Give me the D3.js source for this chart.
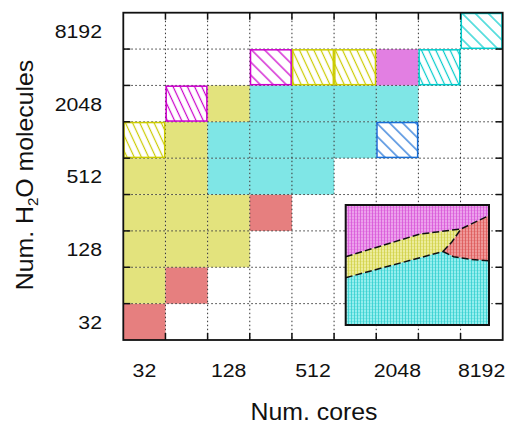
<!DOCTYPE html>
<html>
<head>
<meta charset="utf-8">
<script src="https://cdn.jsdelivr.net/npm/d3@7"></script>
<style>
  body { margin: 0; background: #fff; }
  svg { display: block; font-family: "Liberation Sans", Arial, sans-serif; }
</style>
</head>
<body>
<div id="chart"></div>
<script>
const cores = [32, 64, 128, 256, 512, 1024, 2048, 4096, 8192];
const molecules = [32, 64, 128, 256, 512, 1024, 2048, 4096, 8192];
const tickLabels = [32, 128, 512, 2048, 8192];

// one row per molecule count (bottom to top), one entry per core count
// Y/C/R/M solid, y/m/c dense hatch, mS/cS/bS sparse hatch
const cellRows = [
    ['R', '', '', '', '', '', '', '', ''],
    ['Y', 'R', '', '', '', '', '', '', ''],
    ['Y', 'Y', 'Y', '', '', '', '', '', ''],
    ['Y', 'Y', 'Y', 'R', '', '', '', '', ''],
    ['Y', 'Y', 'C', 'C', 'C', '', '', '', ''],
    ['y', 'Y', 'C', 'C', 'C', 'C', 'bS', '', ''],
    ['', 'm', 'Y', 'C', 'C', 'C', 'C', '', ''],
    ['', '', '', 'mS', 'y', 'y', 'M', 'c', ''],
    ['', '', '', '', '', '', '', '', 'cS']
];

// inset regions, in inset units (0..1, y up)
const insetMagenta = [[0, 0.569], [0.518, 0.758], [0.804, 0.8], [1, 0.9125], [1, 1], [0, 1]];
const insetYellow = [[0, 0.394], [0.679, 0.6125], [0.742, 0.694], [0.804, 0.8], [0.518, 0.758], [0, 0.569]];
const insetRed = [[0.679, 0.6125], [0.753, 0.569], [0.869, 0.547], [1, 0.536], [1, 0.9125], [0.804, 0.8], [0.742, 0.694]];
const insetCyan = [[0, 0], [1, 0], [1, 0.536], [0.869, 0.547], [0.753, 0.569], [0.679, 0.6125], [0, 0.394]];
const insetBorders = [
    [[0, 0.569], [0.518, 0.758], [0.804, 0.8], [1, 0.9125]],
    [[0, 0.394], [0.679, 0.6125]],
    [[0.679, 0.6125], [0.742, 0.694], [0.804, 0.8]],
    [[0.679, 0.6125], [0.753, 0.569], [0.869, 0.547], [1, 0.536]]
];

const W = 506, H = 425;
const plot = { left: 123.3, right: 502.7, top: 12.7, bottom: 340 };
const stretch = 1.12;

const svg = d3.select('#chart').append('svg')
    .attr('width', W)
    .attr('height', H);

const x = d3.scaleBand().domain(cores).range([plot.left, plot.right]);
const y = d3.scaleBand().domain(molecules).range([plot.bottom, plot.top]);

const solid = { Y: '#e3e37d', C: '#7fe6e6', R: '#e67f7f', M: '#e27fe2' };
const hatch = {
    y: { color: '#cccc00', sparse: false },
    m: { color: '#cc00cc', sparse: false },
    c: { color: '#00cccc', sparse: false },
    mS: { color: '#cc00cc', sparse: true },
    cS: { color: '#00cccc', sparse: true },
    bS: { color: '#1a6fd6', sparse: true }
};

const defs = svg.append('defs');

Object.entries(hatch).forEach(([key, h]) => {
    const size = h.sparse ? 9.2 : 6.5;
    const angle = h.sparse ? -45 : -25;
    const p = defs.append('pattern')
        .attr('id', 'hatch-' + key)
        .attr('patternUnits', 'userSpaceOnUse')
        .attr('width', size)
        .attr('height', size)
        .attr('patternTransform', `rotate(${angle})`);
    p.append('rect').attr('width', size).attr('height', size).attr('fill', '#fff');
    p.append('line')
        .attr('x1', size / 2).attr('x2', size / 2)
        .attr('y1', 0).attr('y2', size)
        .attr('stroke', h.color)
        .attr('stroke-width', 1.2);
});

const mesh = {
    m: ['#eca0ec', '#d650d6'],
    y: ['#ecec9a', '#cfcf40'],
    r: ['#ef9898', '#da5252'],
    c: ['#94eeee', '#2ccccc']
};
Object.entries(mesh).forEach(([key, [light, dark]]) => {
    const p = defs.append('pattern')
        .attr('id', 'mesh-' + key)
        .attr('patternUnits', 'userSpaceOnUse')
        .attr('width', 3)
        .attr('height', 3);
    p.append('rect').attr('width', 3).attr('height', 3).attr('fill', light);
    p.append('rect').attr('width', 1).attr('height', 3).attr('fill', dark).attr('opacity', 0.75);
    p.append('rect').attr('width', 3).attr('height', 1).attr('fill', dark).attr('opacity', 0.3);
});

// cells
const cellData = [];
cellRows.forEach((row, i) => {
    row.forEach((code, j) => {
        if (code) cellData.push({ mol: molecules[i], core: cores[j], code });
    });
});

svg.append('g')
    .selectAll('rect')
    .data(cellData)
    .join('rect')
    .attr('x', d => x(d.core))
    .attr('y', d => y(d.mol))
    .attr('width', x.bandwidth())
    .attr('height', y.bandwidth())
    .attr('fill', d => solid[d.code] ? solid[d.code] : `url(#hatch-${d.code})`);

// dotted grid
const grid = svg.append('g')
    .attr('stroke', '#333')
    .attr('stroke-width', 1)
    .attr('stroke-dasharray', '1.5,2.5');

grid.selectAll('.gx')
    .data(cores.slice(1))
    .join('line')
    .attr('x1', d => x(d)).attr('x2', d => x(d))
    .attr('y1', plot.top).attr('y2', plot.bottom);

grid.selectAll('.gy')
    .data(molecules.slice(1))
    .join('line')
    .attr('y1', d => y(d) + y.bandwidth()).attr('y2', d => y(d) + y.bandwidth())
    .attr('x1', plot.left).attr('x2', plot.right);

// hatched cell outlines on top of grid
svg.append('g')
    .selectAll('rect')
    .data(cellData.filter(d => hatch[d.code]))
    .join('rect')
    .attr('x', d => x(d.core) + 0.75)
    .attr('y', d => y(d.mol) + 0.75)
    .attr('width', x.bandwidth() - 1.5)
    .attr('height', y.bandwidth() - 1.5)
    .attr('fill', 'none')
    .attr('stroke', d => hatch[d.code].color)
    .attr('stroke-width', 1.5);

// inset
const ix = d3.scaleLinear().domain([0, 1]).range([345.7, 489]);
const iy = d3.scaleLinear().domain([0, 1]).range([325, 205]);
const insetLine = d3.line().x(d => ix(d[0])).y(d => iy(d[1]));

const inset = svg.append('g');
inset.append('rect')
    .attr('x', ix(0)).attr('y', iy(1))
    .attr('width', ix(1) - ix(0)).attr('height', iy(0) - iy(1))
    .attr('fill', '#fff');

[[insetMagenta, 'm'], [insetYellow, 'y'], [insetRed, 'r'], [insetCyan, 'c']].forEach(([pts, key]) => {
    inset.append('path')
        .attr('d', insetLine(pts) + 'Z')
        .attr('fill', `url(#mesh-${key})`);
});

inset.selectAll('.border')
    .data(insetBorders)
    .join('path')
    .attr('d', insetLine)
    .attr('fill', 'none')
    .attr('stroke', '#111')
    .attr('stroke-width', 1.5)
    .attr('stroke-dasharray', '7,3');

inset.append('rect')
    .attr('x', ix(0)).attr('y', iy(1))
    .attr('width', ix(1) - ix(0)).attr('height', iy(0) - iy(1))
    .attr('fill', 'none')
    .attr('stroke', '#111')
    .attr('stroke-width', 2);

// frame and ticks
svg.append('rect')
    .attr('x', plot.left).attr('y', plot.top)
    .attr('width', plot.right - plot.left)
    .attr('height', plot.bottom - plot.top)
    .attr('fill', 'none')
    .attr('stroke', '#111')
    .attr('stroke-width', 1.8);

const tickLen = 7;
const ticks = svg.append('g').attr('stroke', '#111').attr('stroke-width', 1.5);
cores.slice(1).forEach(c => {
    ticks.append('line').attr('x1', x(c)).attr('x2', x(c)).attr('y1', plot.bottom).attr('y2', plot.bottom - tickLen);
    ticks.append('line').attr('x1', x(c)).attr('x2', x(c)).attr('y1', plot.top).attr('y2', plot.top + tickLen);
});
molecules.slice(1).forEach(m => {
    const yy = y(m) + y.bandwidth();
    ticks.append('line').attr('x1', plot.left).attr('x2', plot.left + tickLen).attr('y1', yy).attr('y2', yy);
    ticks.append('line').attr('x1', plot.right).attr('x2', plot.right - tickLen).attr('y1', yy).attr('y2', yy);
});

// tick labels
svg.append('g')
    .selectAll('text')
    .data(tickLabels)
    .join('text')
    .attr('transform', d => `translate(${x(d) + x.bandwidth() / 2},376.5) scale(${stretch},1)`)
    .attr('text-anchor', 'middle')
    .attr('font-size', 19)
    .attr('fill', '#111')
    .text(d => d);

svg.append('g')
    .selectAll('text')
    .data(tickLabels)
    .join('text')
    .attr('transform', d => `translate(102,${y(d) + y.bandwidth() / 2 + 7}) scale(${stretch},1)`)
    .attr('text-anchor', 'end')
    .attr('font-size', 19)
    .attr('fill', '#111')
    .text(d => d);

// axis titles
svg.append('text')
    .attr('transform', `translate(314,420) scale(1.08,1)`)
    .attr('text-anchor', 'middle')
    .attr('font-size', 23)
    .attr('fill', '#111')
    .text('Num. cores');

const yTitle = svg.append('text')
    .attr('transform', `translate(33,175) rotate(-90) scale(1.08,1)`)
    .attr('text-anchor', 'middle')
    .attr('font-size', 23)
    .attr('fill', '#111');
yTitle.append('tspan').text('Num. H');
yTitle.append('tspan').attr('font-size', 14).attr('dy', 5).text('2');
yTitle.append('tspan').attr('dy', -5).text('O molecules');
</script>
</body>
</html>
